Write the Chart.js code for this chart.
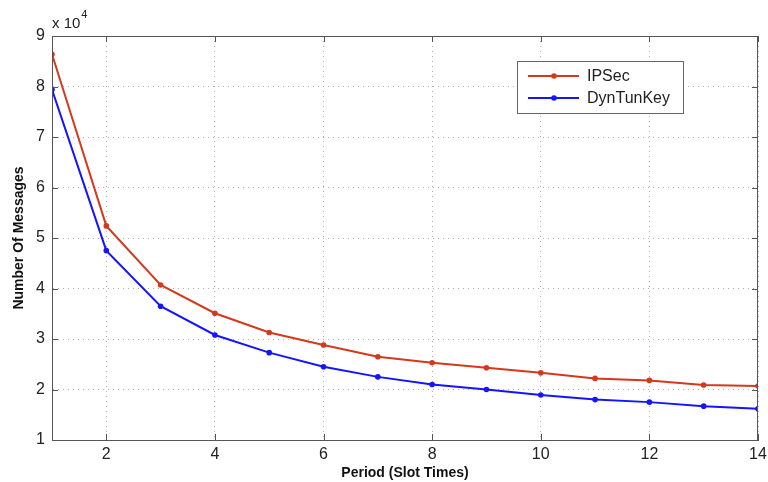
<!DOCTYPE html>
<html>
<head>
<meta charset="utf-8">
<script src="https://cdn.jsdelivr.net/npm/chart.js@4.4.0/dist/chart.umd.min.js"></script>
<style>
  html, body { margin: 0; padding: 0; background: #fff; }
  #wrap { width: 768px; height: 482px; }
</style>
</head>
<body>
<div id="wrap"><canvas id="c" width="768" height="482"></canvas></div>
<script>
const periods = [1, 2, 3, 4, 5, 6, 7, 8, 9, 10, 11, 12, 13, 14];
const ipsec = [86400, 52400, 40700, 35100, 31300, 28800, 26500, 25300, 24300, 23300, 22200, 21800, 20900, 20700];
const dyntunkey = [79400, 47500, 36500, 30800, 27300, 24500, 22500, 21000, 20000, 18900, 18000, 17500, 16700, 16200];
const xTicks = [2, 4, 6, 8, 10, 12, 14];
const yTicks = [10000, 20000, 30000, 40000, 50000, 60000, 70000, 80000, 90000];
const seriesNames = ['IPSec', 'DynTunKey'];
const seriesColors = ['#d4391c', '#1414ff'];

const FONT = "'Liberation Sans', Arial, Helvetica, sans-serif";

const decorPlugin = {
  id: 'decor',
  afterDraw(chart) {
    const ctx = chart.ctx;
    const a = chart.chartArea;
    const xs = chart.scales.x, ys = chart.scales.y;
    ctx.save();
    // box
    ctx.strokeStyle = '#555';
    ctx.lineWidth = 1;
    ctx.strokeRect(a.left + 0.5, a.top + 0.5, a.right - a.left - 1, a.bottom - a.top);
    // inward ticks
    ctx.beginPath();
    xTicks.forEach(v => {
      const px = Math.round(xs.getPixelForValue(v)) + 0.5;
      ctx.moveTo(px, a.bottom); ctx.lineTo(px, a.bottom - 6);
      ctx.moveTo(px, a.top); ctx.lineTo(px, a.top + 6);
    });
    yTicks.forEach(v => {
      const py = Math.round(ys.getPixelForValue(v)) + 0.5;
      ctx.moveTo(a.left, py); ctx.lineTo(a.left + 6, py);
      ctx.moveTo(a.right, py); ctx.lineTo(a.right - 6, py);
    });
    ctx.stroke();
    // exponent label
    ctx.fillStyle = '#222';
    ctx.textBaseline = 'alphabetic';
    ctx.textAlign = 'left';
    ctx.font = '15px ' + FONT;
    ctx.fillText('x 10', a.left, a.top - 8);
    const w = ctx.measureText('x 10').width;
    ctx.font = '11px ' + FONT;
    ctx.fillText('4', a.left + w + 1, a.top - 18);
    // legend
    const lx = 517, ly = 61, lw = 166, lh = 52;
    ctx.fillStyle = '#fff';
    ctx.fillRect(lx, ly, lw, lh);
    ctx.strokeStyle = '#666';
    ctx.lineWidth = 1;
    ctx.strokeRect(lx + 0.5, ly + 0.5, lw, lh);
    chart.data.datasets.forEach((ds, i) => {
      const y = ly + 15 + i * 22;
      ctx.strokeStyle = ds.borderColor;
      ctx.lineWidth = 2;
      ctx.beginPath();
      ctx.moveTo(lx + 11, y); ctx.lineTo(lx + 62, y);
      ctx.stroke();
      ctx.fillStyle = ds.borderColor;
      ctx.beginPath();
      ctx.arc(lx + 37, y, 2.8, 0, Math.PI * 2);
      ctx.fill();
      ctx.fillStyle = '#222';
      ctx.font = '16px ' + FONT;
      ctx.textBaseline = 'middle';
      ctx.fillText(ds.label, lx + 70, y + 1);
    });
    ctx.restore();
  }
};

new Chart(document.getElementById('c'), {
  type: 'line',
  data: {
    datasets: [
      { label: seriesNames[0], data: periods.map((p, i) => ({ x: p, y: ipsec[i] })), borderColor: seriesColors[0], backgroundColor: seriesColors[0] },
      { label: seriesNames[1], data: periods.map((p, i) => ({ x: p, y: dyntunkey[i] })), borderColor: seriesColors[1], backgroundColor: seriesColors[1] }
    ]
  },
  options: {
    responsive: false,
    animation: false,
    devicePixelRatio: 1,
    layout: { padding: { left: 0, top: 36, right: 0, bottom: 0 } },
    elements: {
      line: { borderWidth: 2, tension: 0 },
      point: { radius: 2.8, borderWidth: 0, hoverRadius: 2.8 }
    },
    plugins: { legend: { display: false }, tooltip: { enabled: false } },
    scales: {
      x: {
        type: 'linear', min: 1, max: 14,
        afterBuildTicks: s => { s.ticks = xTicks.map(v => ({ value: v })); },
        afterFit: s => { s.height = 42; s.paddingRight = 10; },
        grid: { drawTicks: false, color: '#b0b0b0', lineWidth: 1 },
        border: { display: true, color: '#555', dash: [1, 4] },
        ticks: { color: '#222', font: { size: 16, family: FONT }, padding: 5, maxRotation: 0, autoSkip: false },
        title: { display: true, text: 'Period (Slot Times)', color: '#111', font: { size: 14, weight: 'bold', family: FONT }, padding: { top: 1, bottom: 0 } }
      },
      y: {
        type: 'linear', min: 10000, max: 90000,
        afterBuildTicks: s => { s.ticks = yTicks.map(v => ({ value: v })); },
        afterFit: s => { s.width = 52; },
        grid: { drawTicks: false, color: '#b0b0b0', lineWidth: 1 },
        border: { display: true, color: '#555', dash: [1, 4] },
        ticks: { color: '#222', font: { size: 16, family: FONT }, padding: 7, callback: v => String(v / 10000) },
        title: { display: true, text: 'Number Of Messages', color: '#111', font: { size: 14, weight: 'bold', family: FONT }, padding: { top: 11, bottom: 0 } }
      }
    }
  },
  plugins: [decorPlugin]
});
</script>
</body>
</html>
